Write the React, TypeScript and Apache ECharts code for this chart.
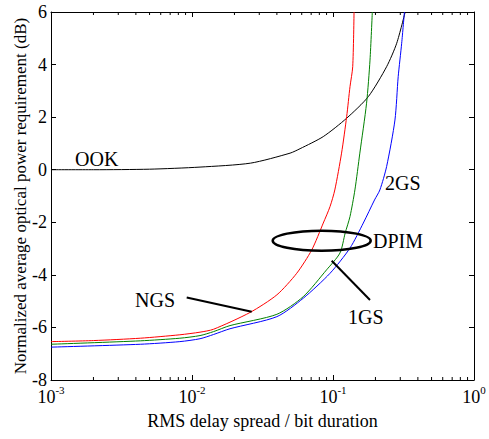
import React, { useEffect, useRef } from "react";
import * as echarts from "echarts";

// ---- data ----
const ookX = [0.001, 0.002, 0.005, 0.0114, 0.026, 0.0496, 0.0584, 0.0853, 0.125, 0.178, 0.24, 0.283, 0.325];
const ookY = [0, 0, 0.02, 0.1, 0.25, 0.63, 0.8, 1.26, 1.96, 2.78, 3.92, 4.81, 6.0];

const ngsX = [0.001, 0.002, 0.0043, 0.0082, 0.0114, 0.0142, 0.0258, 0.04, 0.0553, 0.0707, 0.0853, 0.0953, 0.103, 0.115, 0.125, 0.132, 0.138, 0.141];
const ngsY = [-6.54, -6.5, -6.41, -6.28, -6.18, -6.07, -5.43, -4.76, -3.94, -3.05, -2.03, -1.4, -0.77, 0.63, 2.02, 3.16, 3.92, 6.0];

const gs1X = [0.001, 0.0043, 0.0082, 0.0114, 0.0142, 0.0186, 0.04, 0.0615, 0.09, 0.112, 0.122, 0.132, 0.143, 0.155, 0.173, 0.183, 0.19];
const gs1Y = [-6.64, -6.51, -6.41, -6.31, -6.16, -5.93, -5.5, -4.83, -3.81, -3.17, -2.41, -1.78, -0.77, 0.63, 2.53, 4.17, 6.0];

const gs2X = [0.001, 0.0043, 0.0082, 0.0114, 0.0142, 0.0186, 0.04, 0.0615, 0.0953, 0.132, 0.164, 0.197, 0.215, 0.24, 0.275, 0.29, 0.307, 0.321];
const gs2Y = [-6.75, -6.64, -6.54, -6.43, -6.27, -6.05, -5.59, -4.89, -3.94, -2.98, -2.03, -1.15, -0.77, 0.12, 1.89, 3.54, 4.81, 6.0];

const yTicks = { min: -8, max: 6, interval: 2 };
const xRange = { min: 0.001, max: 1 };
const minorMultipliers = [2, 3, 4, 5, 6, 7, 8, 9];
const decades = [0.001, 0.01, 0.1];
const xTitle = "RMS delay spread / bit duration";
const yTitle = "Normalized average optical power requirement (dB)";

const FONT = "Liberation Serif";

function pairs(xs: number[], ys: number[]) {
  return xs.map((x, i) => [x, ys[i]]);
}

export default function App() {
  const ref = useRef<HTMLDivElement>(null);
  useEffect(() => {
    if (!ref.current) return;
    const chart = echarts.init(ref.current, null, { renderer: "svg" });

    const baseX = {
      type: "log",
      logBase: 10,
      min: xRange.min,
      max: xRange.max,
      gridIndex: 0,
      splitLine: { show: false },
      minorTick: { show: false },
      minorSplitLine: { show: false },
    };
    const lineStyle = { color: "#000", width: 1 };

    const mkSeries = (name: string, color: string, xs: number[], ys: number[]) => ({
      name,
      type: "line",
      xAxisIndex: 0,
      yAxisIndex: 0,
      data: pairs(xs, ys),
      showSymbol: false,
      symbol: "none",
      smooth: 0.25,
      clip: true,
      lineStyle: { color, width: 1 },
      itemStyle: { color },
      z: 3,
    });

    const txt = (text: string, x: number, y: number) => ({
      type: "text",
      x,
      y,
      z: 10,
      style: {
        text,
        fill: "#000",
        fontSize: 20,
        fontFamily: FONT,
        align: "left",
        verticalAlign: "middle",
      },
    });

    chart.setOption({
      animation: false,
      backgroundColor: "#fff",
      grid: { left: 51, right: 15, top: 12, bottom: 59, containLabel: false, outerBoundsMode: "none" },
      xAxis: [
        {
          ...baseX,
          position: "bottom",
          axisLine: { show: true, onZero: false, lineStyle },
          axisTick: { show: true, inside: true, length: 5, lineStyle },
          axisLabel: {
            show: true,
            margin: 8,
            hideOverlap: false,
            formatter: (v: number) => `{b|10}{s|${Math.round(Math.log10(v))}}`,
            rich: {
              b: { fontSize: 18, fontFamily: FONT, color: "#000", lineHeight: 18, verticalAlign: "bottom" },
              s: { fontSize: 11, fontFamily: FONT, color: "#000", lineHeight: 11, verticalAlign: "bottom", padding: [0, 0, 11, 0] },
            },
          },
          name: xTitle,
          nameLocation: "middle",
          nameGap: 32,
          nameMoveOverlap: false,
          nameTextStyle: { fontSize: 18, fontFamily: FONT, color: "#000" },
        },
        {
          ...baseX,
          position: "top",
          axisLine: { show: true, onZero: false, lineStyle },
          axisTick: { show: true, inside: true, length: 5, lineStyle },
          axisLabel: { show: false },
        },
      ],
      yAxis: [
        {
          type: "value",
          min: yTicks.min,
          max: yTicks.max,
          interval: yTicks.interval,
          position: "left",
          splitLine: { show: false },
          axisLine: { show: true, onZero: false, lineStyle },
          axisTick: { show: true, inside: true, length: 5, lineStyle },
          axisLabel: { show: true, margin: 4, fontSize: 18, fontFamily: FONT, color: "#000" },
          name: yTitle,
          nameLocation: "middle",
          nameGap: 22,
          nameMoveOverlap: false,
          nameTextStyle: { fontSize: 17, fontFamily: FONT, color: "#000" },
        },
        {
          type: "value",
          min: yTicks.min,
          max: yTicks.max,
          interval: yTicks.interval,
          position: "right",
          splitLine: { show: false },
          axisLine: { show: true, onZero: false, lineStyle },
          axisTick: { show: true, inside: true, length: 5, lineStyle },
          axisLabel: { show: false },
        },
      ],
      series: [
        mkSeries("OOK", "#000000", ookX, ookY),
        mkSeries("NGS", "#ff0000", ngsX, ngsY),
        mkSeries("1GS", "#008000", gs1X, gs1Y),
        mkSeries("2GS", "#0000ff", gs2X, gs2Y),
      ],
    });

    // minor log ticks (2..9 × 10^k), positioned through the x axis scale
    const yBottom = chart.convertToPixel({ yAxisIndex: 0 }, yTicks.min) as number;
    const yTop = chart.convertToPixel({ yAxisIndex: 0 }, yTicks.max) as number;
    const minorTicks: any[] = [];
    decades.forEach((d) =>
      minorMultipliers.forEach((m) => {
        const px = chart.convertToPixel({ xAxisIndex: 0 }, m * d) as number;
        minorTicks.push({
          type: "line",
          silent: true,
          shape: { x1: px, y1: yBottom, x2: px, y2: yBottom - 3 },
          style: { stroke: "#000", lineWidth: 1 },
        });
        minorTicks.push({
          type: "line",
          silent: true,
          shape: { x1: px, y1: yTop, x2: px, y2: yTop + 3 },
          style: { stroke: "#000", lineWidth: 1 },
        });
      })
    );

    chart.setOption({
      graphic: [
        ...minorTicks,
        txt("OOK", 75, 158.5),
        txt("2GS", 385, 182.5),
        txt("DPIM", 373, 240.5),
        txt("NGS", 135, 300),
        txt("1GS", 348, 317),
        {
          type: "ellipse",
          z: 10,
          shape: { cx: 321.7, cy: 240.7, rx: 49, ry: 10 },
          style: { fill: "none", stroke: "#000", lineWidth: 2.5 },
        },
        {
          type: "line",
          z: 10,
          shape: { x1: 186.7, y1: 297.5, x2: 251.7, y2: 311.7 },
          style: { stroke: "#000", lineWidth: 2 },
        },
        {
          type: "line",
          z: 10,
          shape: { x1: 331.7, y1: 260.7, x2: 370, y2: 300 },
          style: { stroke: "#000", lineWidth: 2 },
        },
      ],
    });
    return () => chart.dispose();
  }, []);
  return <div ref={ref} style={{ position: "absolute", left: 0, top: 0, width: 489, height: 439 }} />;
}
